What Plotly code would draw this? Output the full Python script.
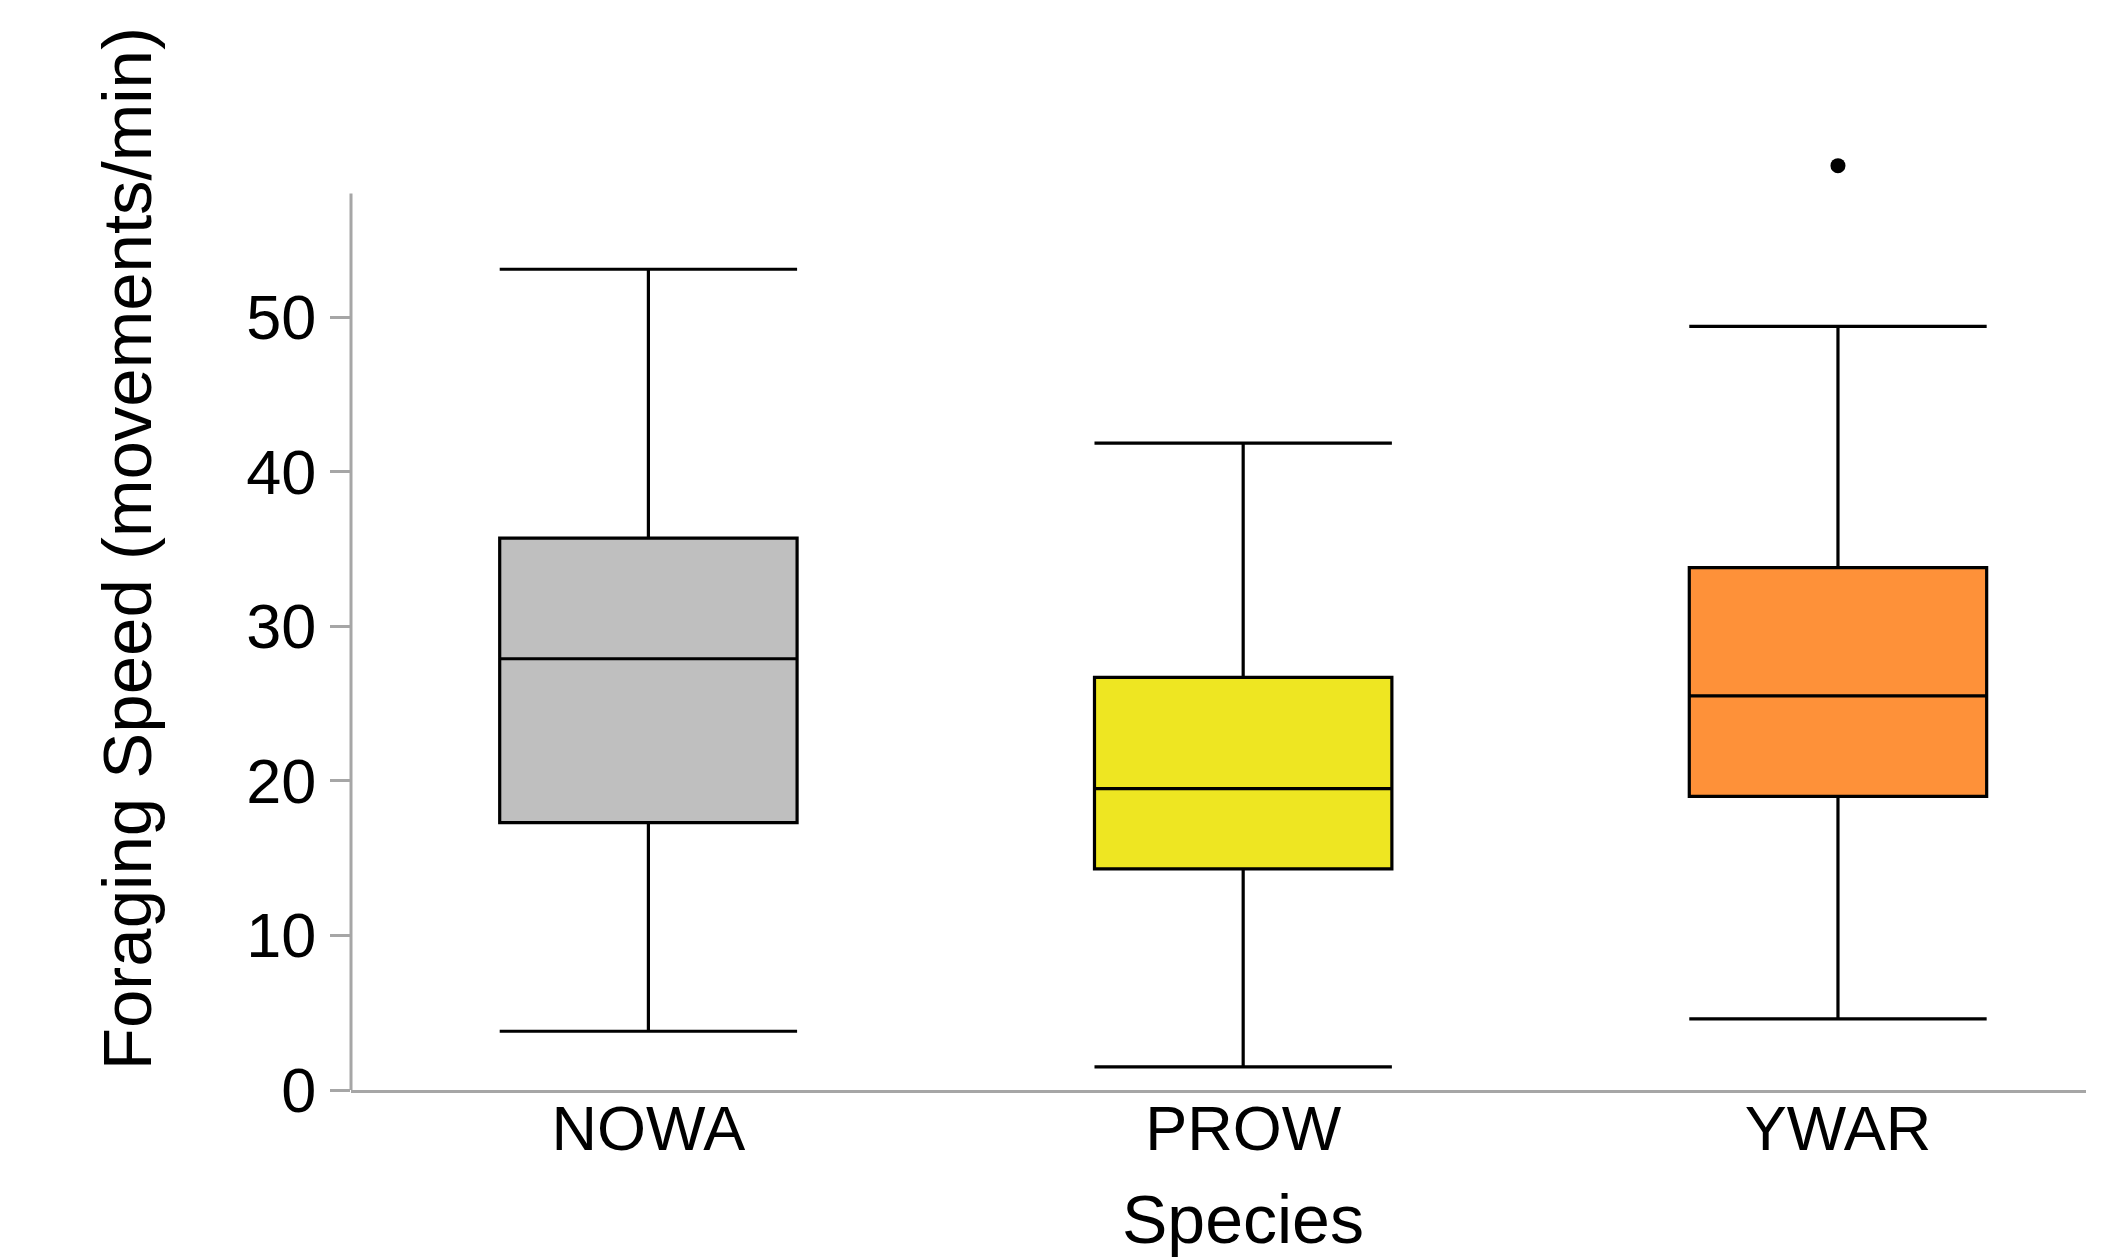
import plotly.graph_objects as go

species = ["NOWA", "PROW", "YWAR"]
lower_whisker = [3.8, 1.5, 4.6]
q1 = [17.3, 14.3, 19.0]
median = [27.9, 19.5, 25.5]
q3 = [35.7, 26.7, 33.8]
upper_whisker = [53.1, 41.85, 49.4]
box_colors = ["#bfbfbf", "#eee622", "#fe9139"]

outlier_species = ["YWAR"]
outlier_values = [59.8]

y_ticks = [0, 10, 20, 30, 40, 50]

FONT = "Liberation Sans, Arial, sans-serif"
AXIS_GREY = "#a6a6a6"

fig = go.Figure()
for i, sp in enumerate(species):
    fig.add_trace(go.Box(
        x=[sp],
        q1=[q1[i]], median=[median[i]], q3=[q3[i]],
        lowerfence=[lower_whisker[i]], upperfence=[upper_whisker[i]],
        fillcolor=box_colors[i],
        line=dict(color="black", width=3.2),
        whiskerwidth=1,
        width=0.5,
        boxpoints=False,
        showlegend=False,
        hoverinfo="skip",
    ))

fig.add_trace(go.Scatter(
    x=outlier_species, y=outlier_values, mode="markers",
    marker=dict(color="black", size=15),
    showlegend=False, cliponaxis=False, hoverinfo="skip",
))

fig.update_layout(
    width=2102, height=1249,
    margin=dict(l=343, r=24, t=0, b=167),
    paper_bgcolor="white", plot_bgcolor="white",
    font=dict(family=FONT, color="black"),
    xaxis=dict(
        type="category", categoryorder="array", categoryarray=species,
        range=[-0.5, 2.417],
        showline=True, linecolor=AXIS_GREY, linewidth=3,
        ticks="", showgrid=False, zeroline=False,
        tickfont=dict(size=63, family=FONT, color="black"),
        ticklabelstandoff=-19,
    ),
    yaxis=dict(
        range=[0, 70],
        tickvals=y_ticks, ticktext=[str(v) for v in y_ticks],
        showline=False, showgrid=False, zeroline=False,
        ticks="outside", ticklen=20, tickwidth=3, tickcolor=AXIS_GREY,
        tickfont=dict(size=63, family=FONT, color="black"),
        ticklabelstandoff=1,
    ),
    shapes=[dict(
        type="line", xref="paper", yref="y",
        x0=0, x1=0, y0=0, y1=58,
        line=dict(color=AXIS_GREY, width=3),
        layer="above",
    )],
    annotations=[
        dict(
            text="Foraging Speed (movements/min)", textangle=-90,
            xref="paper", yref="paper", x=-0.129, y=0.5,
            xanchor="center", yanchor="middle", showarrow=False,
            font=dict(size=69, family=FONT, color="black"),
        ),
        dict(
            text="Species",
            xref="x", yref="paper", x="PROW", y=-0.119,
            xanchor="center", yanchor="middle", showarrow=False,
            font=dict(size=68, family=FONT, color="black"),
        ),
    ],
)

fig.write_html("out.html")
